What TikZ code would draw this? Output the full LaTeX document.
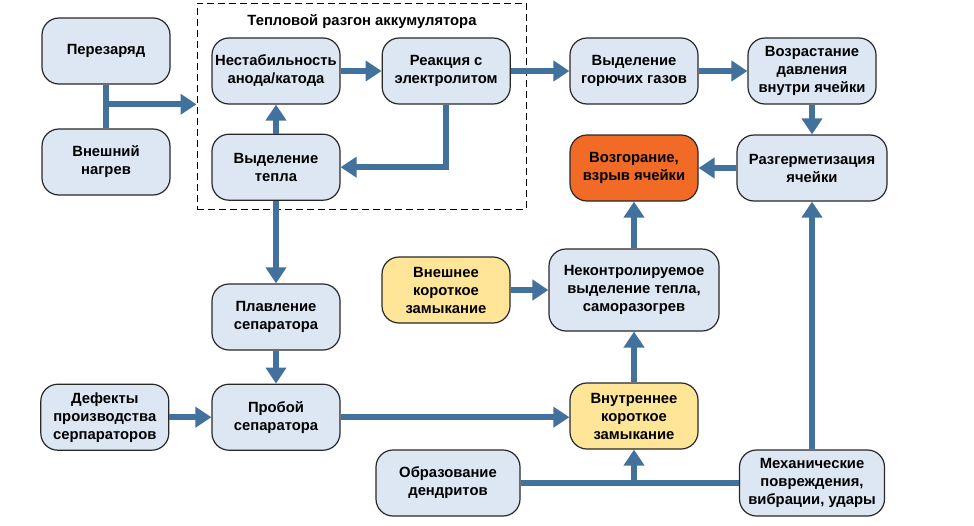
\documentclass[tikz,border=0pt]{standalone}
\usepackage{fontspec}
\setmainfont{Liberation Sans}
\usetikzlibrary{arrows.meta, positioning, calc}

\definecolor{flowblue}{RGB}{65,113,156}
\definecolor{boxfill}{RGB}{221,231,243}
\definecolor{boxline}{RGB}{40,40,40}
\definecolor{firefill}{RGB}{241,106,38}
\definecolor{warnfill}{RGB}{255,229,152}

\begin{document}
\begin{tikzpicture}[x=1pt, y=-1pt, >={Triangle[length=16pt,width=20pt]},
	every node/.style={font=\bfseries\fontsize{14.8}{18}\selectfont, align=center},
	box/.style={draw=boxline, line width=1.2pt, rounded corners=17pt, fill=boxfill,
		minimum width=128pt, minimum height=66pt, inner sep=1pt},
	flow/.style={->, draw=flowblue, line width=6pt}]
	\useasboundingbox (0,0) rectangle (974,525);

	% Thermal runaway frame
	\node[draw, line width=1pt, dash pattern=on 7pt off 4pt, minimum width=329pt, minimum height=206pt] (runaway) at (361.5,106) {};
	\node[font=\bfseries\fontsize{14.8}{17}\selectfont] (rtitle) at (362,22) {Тепловой разгон аккумулятора};

	% Nodes of the upper part
	\node[box] (over) at (106,51) {Перезаряд};
	\node[box] (outheat) at (106,162) {Внешний\\нагрев};
	\node[box] (nest) at (276,71) {Нестабильность\\анода/катода};
	\node[box, right=41pt of nest] (react) {Реакция с\\электролитом};
	\node[box, below=29pt of nest] (heat) {Выделение\\тепла};
	\node[box] (gas) at (634,71) {Выделение\\горючих газов};
	\node[box] (press) at (812,71) {Возрастание\\давления\\внутри ячейки};
	\node[box, minimum width=150pt] (unseal) at (812,168) {Разгерметизация\\ячейки};
	\node[box, fill=firefill] (fire) at (634,168) {Возгорание,\\взрыв ячейки};

	% Nodes of the lower part
	\node[box] (melt) at (276,317) {Плавление\\сепаратора};
	\node[box, below=33pt of melt] (breach) {Пробой\\сепаратора};
	\node[box, left=42pt of breach] (defect) {Дефекты\\производства\\серпараторов};
	\node[box, fill=warnfill] (extshort) at (446,290) {Внешнее\\короткое\\замыкание};
	\node[box, minimum width=170pt, minimum height=82pt] (selfheat) at (634,290) {Неконтролируемое\\выделение тепла,\\саморазогрев};
	\node[box, fill=warnfill] (intshort) at (634,416) {Внутреннее\\короткое\\замыкание};
	\node[box, minimum width=144pt] (dendr) at (448,483) {Образование\\дендритов};
	\node[box, minimum width=145pt] (mech) at (812,483) {Механические\\повреждения,\\вибрации, удары};

	% Connectors
	\coordinate (join) at ($(over.south)!0.45!(outheat.north)$);
	\draw[flow, -] (over) -- (outheat);
	\draw[flow] (join) -- (join -| runaway.west);
	\draw[flow] (nest) -- (react);
	\draw[flow] (react.south) |- (heat.east);
	\draw[flow] (heat) -- (nest);
	\draw[flow] (react) -- (gas);
	\draw[flow] (gas) -- (press);
	\draw[flow] (press) -- (unseal);
	\draw[flow] (unseal) -- (fire);
	\draw[flow] (heat) -- (melt);
	\draw[flow] (melt) -- (breach);
	\draw[flow] (defect) -- (breach);
	\draw[flow] (breach) -- (breach -| intshort.west);
	\draw[flow] (extshort) -- (extshort -| selfheat.west);
	\draw[flow] (intshort) -- (selfheat);
	\draw[flow] (selfheat) -- (fire);
	\draw[flow, -] (dendr) -- (mech);
	\draw[flow] (dendr.east -| intshort.south) -- (intshort);
	\draw[flow] (mech) -- (unseal);
\end{tikzpicture}
\end{document}
